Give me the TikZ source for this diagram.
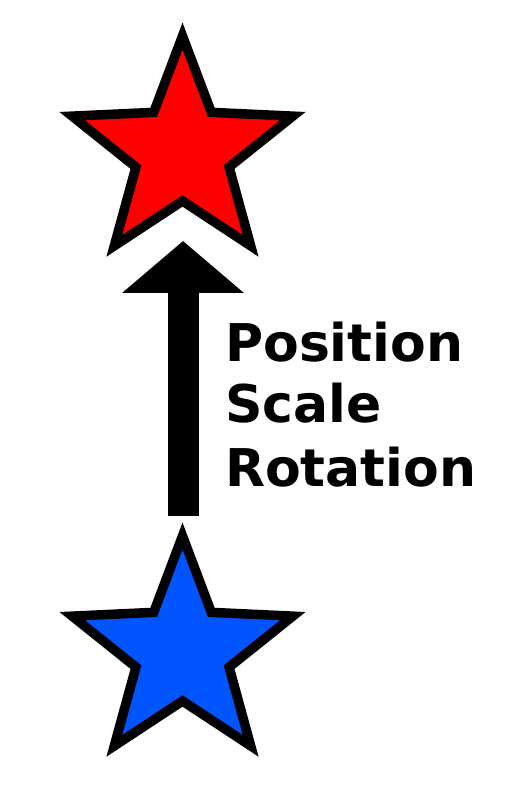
\documentclass[tikz,border=0pt]{standalone}
\usepackage{fontspec}
\setmainfont{DejaVu Sans}
\usetikzlibrary{arrows.meta}
\definecolor{starred}{RGB}{255,0,0}
\definecolor{starblue}{RGB}{0,85,255}
\tikzset{
  starline/.style={draw=black, line width=9.5pt, line join=miter, miter limit=10},
  pics/mystar/.style={code={
    \draw[starline, fill=#1] (90:116) -- (126:49) -- (162:116) -- (198:49) -- (234:116)
      -- (270:49) -- (306:116) -- (342:49) -- (18:116) -- (54:49) -- cycle;}},
  bigarrow/.style={line width=31pt, -{Triangle[width=119pt,length=52pt]}},
  lbl/.style={anchor=base west, inner sep=0pt, font=\fontsize{52}{60}\selectfont\bfseries}
}
\begin{document}
\begin{tikzpicture}[x=1pt,y=1pt]
\fill[white] (0,0) rectangle (508,799);
\useasboundingbox (0,0) rectangle (508,799);
\pic (redstar) at (182.5,647) {mystar=starred};
\pic (bluestar) at (182.5,147) {mystar=starblue};
\coordinate (arrowtail) at (183,283);
\coordinate (arrowtip) at (183,558);
\draw[bigarrow] (arrowtail) -- (arrowtip);
\node[lbl] (pos) at (225,437) {Position};
\node[lbl] (sca) at (225,376) {Scale};
\node[lbl] (rot) at (225,312) {Rotation};
\end{tikzpicture}
\end{document}
